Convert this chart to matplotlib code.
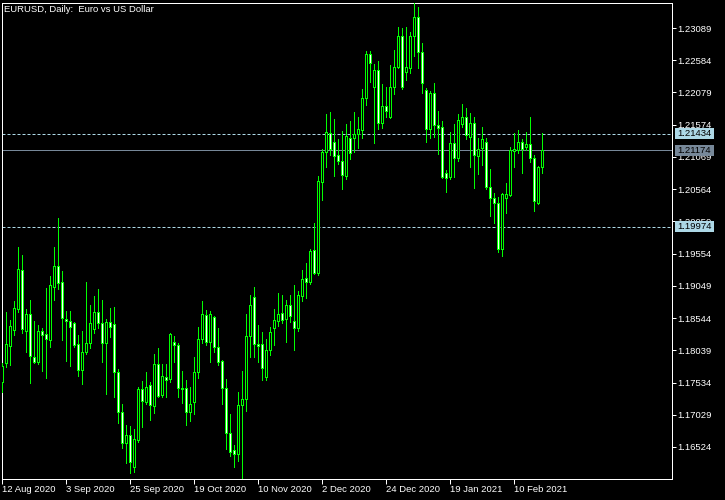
import matplotlib
matplotlib.use("Agg")
import matplotlib.pyplot as plt
import matplotlib.transforms as mtransforms
import pandas as pd
import numpy as np

# ---------------- data (EURUSD daily) ----------------
opens = [1.17542, 1.17840, 1.18106, 1.18357, 1.18686, 1.19297, 1.18341, 1.18608, 1.17934, 1.17856,
         1.18341, 1.18294, 1.18200, 1.19030, 1.19360, 1.19109, 1.18529, 1.18498, 1.18467, 1.18138,
         1.17730, 1.18012, 1.18153, 1.18373, 1.18639, 1.18467, 1.18153, 1.18482, 1.18451, 1.17699,
         1.17072, 1.16586, 1.16712, 1.16210, 1.16633, 1.17432, 1.17229, 1.17495, 1.17166, 1.17824,
         1.17338, 1.17620, 1.17589, 1.18169, 1.18122, 1.17448, 1.17448, 1.17072, 1.17229, 1.17699,
         1.18216, 1.18592, 1.18169, 1.18561, 1.18090, 1.17871, 1.17448, 1.16743, 1.16477, 1.16414,
         1.17182, 1.17276, 1.18263, 1.18874, 1.18138, 1.18138, 1.17620, 1.18044, 1.18388, 1.18498,
         1.18623, 1.18529, 1.18749, 1.18498, 1.18388, 1.18890, 1.19172, 1.19109, 1.19610, 1.19250,
         1.20676, 1.21146, 1.21444, 1.21303, 1.21099, 1.21005, 1.20770, 1.21365, 1.21365, 1.21428,
         1.21491, 1.21992, 1.22682, 1.22164, 1.22431, 1.21600, 1.21867, 1.21694, 1.22164, 1.22478,
         1.22964, 1.22400, 1.22462, 1.22964, 1.23261, 1.22713, 1.22118, 1.21507, 1.22070, 1.21569,
         1.21538, 1.20817, 1.20755, 1.21287, 1.21052, 1.21585, 1.21694, 1.21381, 1.21600, 1.21083,
         1.21209, 1.21303, 1.20598, 1.20425, 1.20347, 1.19626, 1.20425, 1.20472, 1.21162, 1.21177,
         1.21303, 1.21224, 1.21271, 1.21052, 1.20347, 1.20911]
highs = [1.17840, 1.18639, 1.18514, 1.18811, 1.19657, 1.19532, 1.18686, 1.18827, 1.18498, 1.18435,
         1.18388, 1.19015, 1.19203, 1.19657, 1.20112, 1.19281, 1.18655, 1.18655, 1.18482, 1.18279,
         1.18341, 1.19109, 1.18749, 1.18890, 1.18999, 1.18827, 1.18529, 1.18702, 1.18717, 1.17746,
         1.17197, 1.16868, 1.16853, 1.16806, 1.17464, 1.17558, 1.17699, 1.17542, 1.17981, 1.18075,
         1.17824, 1.17824, 1.18310, 1.18263, 1.18153, 1.17714, 1.17573, 1.17464, 1.17934, 1.18404,
         1.18811, 1.18670, 1.18655, 1.18576, 1.18388, 1.17887, 1.17589, 1.17041, 1.16555, 1.17385,
         1.17714, 1.18608, 1.18906, 1.19030, 1.18435, 1.18326, 1.18216, 1.18404, 1.18686, 1.18937,
         1.18906, 1.18827, 1.18906, 1.19062, 1.18968, 1.19297, 1.19407, 1.19626, 1.20033, 1.20770,
         1.21193, 1.21741, 1.21773, 1.21663, 1.21350, 1.21475, 1.21585, 1.21632, 1.21773, 1.21694,
         1.22133, 1.22729, 1.22729, 1.22525, 1.22572, 1.22211, 1.22164, 1.22509, 1.22744, 1.23105,
         1.23089, 1.23105, 1.23026, 1.23481, 1.23418, 1.22854, 1.22149, 1.22102, 1.22227, 1.21788,
         1.21632, 1.20864, 1.21460, 1.21585, 1.21741, 1.21898, 1.21835, 1.21757, 1.21694, 1.21365,
         1.21538, 1.21365, 1.20880, 1.20503, 1.20441, 1.20503, 1.20660, 1.21224, 1.21444, 1.21491,
         1.21350, 1.21460, 1.21694, 1.21099, 1.20927, 1.21444]
lows = [1.17385, 1.17777, 1.17809, 1.18279, 1.18639, 1.18310, 1.18012, 1.17526, 1.17840, 1.17824,
        1.17714, 1.17605, 1.18090, 1.18827, 1.18999, 1.18200, 1.17871, 1.17793, 1.18090, 1.17636,
        1.17510, 1.17981, 1.18075, 1.18310, 1.18388, 1.17856, 1.17354, 1.18247, 1.17307, 1.16900,
        1.16508, 1.16273, 1.16116, 1.16132, 1.16602, 1.16837, 1.17197, 1.16947, 1.17056, 1.17307,
        1.17307, 1.17307, 1.17542, 1.17856, 1.17307, 1.17213, 1.16868, 1.16931, 1.17041, 1.17605,
        1.18153, 1.18122, 1.17856, 1.18012, 1.17809, 1.17197, 1.16492, 1.16382, 1.16210, 1.16304,
        1.16022, 1.17088, 1.17934, 1.17934, 1.17856, 1.17573, 1.17573, 1.17965, 1.18122, 1.18420,
        1.18467, 1.18169, 1.18482, 1.18044, 1.18341, 1.18811, 1.18859, 1.19078, 1.19234, 1.19219,
        1.20394, 1.20911, 1.21099, 1.20770, 1.20958, 1.20566, 1.20723, 1.21036, 1.21146, 1.21209,
        1.21365, 1.21882, 1.22243, 1.21287, 1.21507, 1.21522, 1.21694, 1.21679, 1.22055, 1.22462,
        1.22133, 1.22274, 1.22384, 1.22650, 1.22462, 1.22070, 1.21303, 1.21365, 1.21381, 1.21115,
        1.20739, 1.20519, 1.20723, 1.20755, 1.21005, 1.21538, 1.21350, 1.20911, 1.20582, 1.20801,
        1.20942, 1.20566, 1.20142, 1.20033, 1.19579, 1.19516, 1.20190, 1.20457, 1.20911, 1.21130,
        1.20817, 1.21177, 1.20989, 1.20221, 1.20331, 1.20817]
closes = [1.17793, 1.18138, 1.18420, 1.18702, 1.19313, 1.18373, 1.18608, 1.17950, 1.17856, 1.18341,
          1.18279, 1.18216, 1.19062, 1.19360, 1.19093, 1.18545, 1.18498, 1.18404, 1.18122, 1.17730,
          1.18012, 1.18153, 1.18467, 1.18639, 1.18467, 1.18153, 1.18482, 1.18404, 1.17699, 1.17072,
          1.16586, 1.16712, 1.16289, 1.16649, 1.17432, 1.17244, 1.17464, 1.17182, 1.17824, 1.17323,
          1.17636, 1.17573, 1.18294, 1.18122, 1.17448, 1.17432, 1.17072, 1.17197, 1.17699, 1.18216,
          1.18608, 1.18169, 1.18608, 1.18090, 1.17856, 1.17448, 1.16743, 1.16445, 1.16414, 1.17182,
          1.17276, 1.18263, 1.18749, 1.18138, 1.18106, 1.17762, 1.18044, 1.18326, 1.18514, 1.18608,
          1.18514, 1.18749, 1.18576, 1.18388, 1.18906, 1.19156, 1.19109, 1.19595, 1.19250, 1.20692,
          1.21146, 1.21460, 1.21193, 1.21083, 1.21005, 1.20786, 1.21397, 1.21130, 1.21428, 1.21507,
          1.21992, 1.22682, 1.22541, 1.22431, 1.21600, 1.21867, 1.21788, 1.22164, 1.22478, 1.22964,
          1.22164, 1.22478, 1.22964, 1.23261, 1.22713, 1.22227, 1.21507, 1.22070, 1.21569, 1.21522,
          1.20755, 1.20739, 1.21287, 1.21052, 1.21647, 1.21694, 1.21413, 1.21600, 1.21099, 1.21193,
          1.21350, 1.20598, 1.20425, 1.20347, 1.19626, 1.20488, 1.20488, 1.21177, 1.21193, 1.21303,
          1.21193, 1.21271, 1.21052, 1.20378, 1.20911, 1.21174]

price_ticks = [1.16524, 1.17029, 1.17534, 1.18039, 1.18544, 1.19049, 1.19554,
               1.20059, 1.20564, 1.21069, 1.21574, 1.22079, 1.22584, 1.23089]
date_tick_labels = ["12 Aug 2020", "3 Sep 2020", "25 Sep 2020", "19 Oct 2020", "10 Nov 2020",
                    "2 Dec 2020", "24 Dec 2020", "19 Jan 2021", "10 Feb 2021"]
level_upper = 1.21434
level_lower = 1.19974
bid_price = 1.21174
title_text = "EURUSD, Daily:  Euro vs US Dollar"

# trading days (weekdays without Dec 25 and Jan 1)
dates = pd.bdate_range("2020-08-12", "2021-02-19")
dates = dates[~dates.isin(pd.to_datetime(["2020-12-25", "2021-01-01"]))]
n = len(opens)
dates = dates[:n]
date_labels = [d.strftime("%-d %b %Y") for d in dates]

# ---------------- styling ----------------
W, H = 725, 500
DPI = 100
PX = 72.0 / DPI  # one pixel in points
GREEN = "#00FF00"
FONT = "Liberation Sans"
FS = 6.8

plt.rcParams["lines.scale_dashes"] = False
fig = plt.figure(figsize=(W / DPI, H / DPI), dpi=DPI, facecolor="black")
ax_l, ax_r, ax_t, ax_b = 2.0, 672.0, 2.5, 479.0
ax = fig.add_axes([ax_l / W, 1 - ax_b / H, (ax_r - ax_l) / W, (ax_b - ax_t) / H])
ax.set_facecolor("black")

x = np.arange(n)
o = np.array(opens); c = np.array(closes); hi = np.array(highs); lo = np.array(lows)
bull = c >= o

# wicks
ax.vlines(x, lo, hi, colors=GREEN, linewidth=PX, antialiased=False, zorder=3)
# bodies
body_h = np.abs(c - o)
body_b = np.minimum(o, c)
fills = np.where(bull, "black", "white")
ax.bar(x, body_h, bottom=body_b, width=0.5, color=fills, edgecolor=GREEN,
       linewidth=PX, antialiased=False, zorder=4)

# horizontal levels
ax.axhline(level_upper, color="#ADD8E6", linewidth=PX, dashes=(3 * PX, 2 * PX), zorder=2)
ax.axhline(level_lower, color="#ADD8E6", linewidth=PX, dashes=(3 * PX, 2 * PX), zorder=2)
ax.axhline(bid_price, color="#778899", linewidth=PX, zorder=2)

# scales: 4 px per bar, first bar centred at x=2.3 px
px_per_bar = 4.0
first_center = 2.3
ax.set_xlim((ax_l - first_center) / px_per_bar, (ax_r - first_center) / px_per_bar)
ax.set_ylim(min(lows) - 0.0000, max(highs) + 0.00008)

# spines
for s in ax.spines.values():
    s.set_color("white")
    s.set_linewidth(PX)

# price axis on the right
ax.yaxis.tick_right()
ax.set_yticks(price_ticks)
ax.set_yticklabels([f"{p:.5f}" for p in price_ticks])
ax.tick_params(axis="y", colors="white", length=4 * PX, width=PX, pad=1,
               labelsize=FS, labelcolor="white")
# time axis
tick_idx = list(range(0, n, 16))
ax.set_xticks(tick_idx)
ax.set_xticklabels(date_tick_labels[:len(tick_idx)], ha="left")
ax.tick_params(axis="x", colors="white", length=5 * PX, width=PX, pad=1,
               labelsize=FS, labelcolor="white")
for lab in ax.get_xticklabels() + ax.get_yticklabels():
    lab.set_fontfamily(FONT)

# title
ax.text(4.0 / (ax_r - ax_l) * 0 + 0.003, 0.985, title_text, transform=ax.transAxes,
        color="white", fontsize=FS, fontfamily=FONT, ha="left", va="center")

# price labels boxes on the right scale
tr = mtransforms.blended_transform_factory(fig.transFigure, ax.transData)
px_per_price = (ax_b - ax_t) / (ax.get_ylim()[1] - ax.get_ylim()[0])
box_h = 11.0 / px_per_price
for price, bg in [(level_upper, "#ADD8E6"), (bid_price, "#778899"), (level_lower, "#ADD8E6")]:
    rect = plt.Rectangle((674.5 / W, price - box_h / 2), 39.5 / W, box_h, transform=tr,
                         facecolor=bg, edgecolor="none", zorder=10, clip_on=False)
    fig.add_artist(rect)
    fig.text(677.0 / W, price, f"{price:.5f}", transform=tr, color="black",
             fontsize=FS, fontfamily=FONT, ha="left", va="center", zorder=11)

fig.savefig("out.png", dpi=DPI, facecolor="black")
